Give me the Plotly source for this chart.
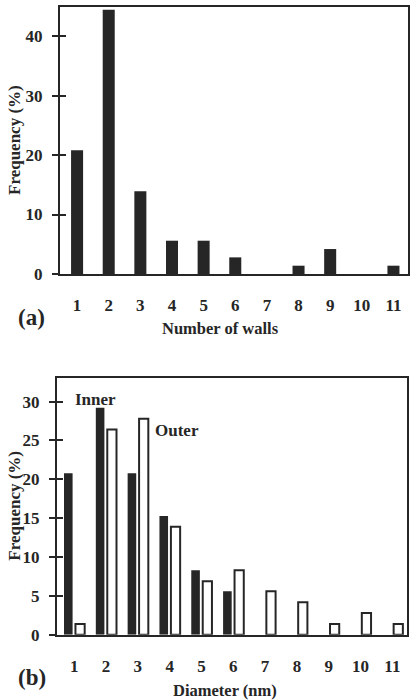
import plotly.graph_objects as go

# ---- data ----
walls = list(range(1, 12))
freq_walls = [20.8, 44.4, 13.9, 5.6, 5.6, 2.8, 0, 1.4, 4.2, 0, 1.4]

diam = list(range(1, 12))
freq_inner = [20.8, 29.2, 20.8, 15.3, 8.3, 5.6, 0, 0, 0, 0, 0]
freq_outer = [1.4, 26.4, 27.8, 13.9, 6.9, 8.3, 5.6, 4.2, 1.4, 2.8, 1.4]

x_ticks = list(range(1, 12))
ya_ticks = [0, 10, 20, 30, 40]
yb_ticks = [0, 5, 10, 15, 20, 25, 30]

W, H = 417, 700
INK = "#262626"
FONT = "Times New Roman, Liberation Serif, DejaVu Serif, serif"

def px(x):
    return x / W

def py(y):
    return 1 - y / H

fig = go.Figure()

fig.add_trace(go.Bar(x=walls, y=freq_walls, width=0.38, marker=dict(color=INK, line=dict(width=0)),
                     xaxis="x", yaxis="y", showlegend=False))
fig.add_trace(go.Bar(x=diam, y=freq_inner, width=0.27, offset=-0.32,
                     marker=dict(color=INK, line=dict(width=0)),
                     xaxis="x2", yaxis="y2", showlegend=False))
fig.add_trace(go.Bar(x=diam, y=freq_outer, width=0.29, offset=0.04,
                     marker=dict(color="white", line=dict(color=INK, width=2)),
                     xaxis="x2", yaxis="y2", showlegend=False))

tickfont = dict(family=FONT, size=17, color=INK, weight="bold")

common_x = dict(range=[0.46, 11.46], tickvals=x_ticks, ticks="", showline=True, linewidth=2,
                linecolor=INK, mirror=True, showgrid=False, zeroline=False, tickfont=tickfont,
                ticklabelstandoff=15)
common_y = dict(ticks="outside", ticklen=6, tickwidth=2, tickcolor=INK, showline=True,
                linewidth=2, linecolor=INK, mirror=True, showgrid=False, zeroline=False,
                tickfont=tickfont, ticklabelstandoff=6)

dom_xa = [px(60), px(408)]
dom_ya = [py(278), py(7)]
dom_xb = [px(57), px(407)]
dom_yb = [py(644), py(383)]

fig.update_layout(
    width=W, height=H, margin=dict(l=0, r=0, t=0, b=0),
    paper_bgcolor="white", plot_bgcolor="white",
    barmode="overlay",
    xaxis=dict(domain=dom_xa, anchor="y", **common_x),
    yaxis=dict(domain=dom_ya, anchor="x", range=[0, 44.9], tickvals=ya_ticks, **common_y),
    xaxis2=dict(domain=dom_xb, anchor="y2", **common_x),
    yaxis2=dict(domain=dom_yb, anchor="x2", range=[0, 33.1], tickvals=yb_ticks, **common_y),
    yaxis3=dict(overlaying="y", anchor="x", range=[0, 44.9], tickvals=ya_ticks, ticks="inside",
                ticklen=6, tickwidth=2, tickcolor=INK, showticklabels=False, showgrid=False,
                zeroline=False, showline=False),
    yaxis4=dict(overlaying="y2", anchor="x2", range=[0, 33.1], tickvals=yb_ticks, ticks="inside",
                ticklen=6, tickwidth=2, tickcolor=INK, showticklabels=False, showgrid=False,
                zeroline=False, showline=False),
)

# invisible traces to activate overlay axes
fig.add_trace(go.Scatter(x=[None], y=[None], xaxis="x", yaxis="y3", showlegend=False))
fig.add_trace(go.Scatter(x=[None], y=[None], xaxis="x2", yaxis="y4", showlegend=False))

lab = dict(family=FONT, size=17, color=INK, weight="bold")
ttl = dict(family=FONT, size=16.5, color=INK, weight="bold")
big = dict(family=FONT, size=23, color=INK, weight="bold")
ann = [
    dict(text="Frequency (%)", x=px(15), y=py(142), textangle=-90, font=lab),
    dict(text="Number of walls", x=px(220), y=py(333), font=ttl),
    dict(text="(a)", x=px(32), y=py(322), font=big),
    dict(text="Frequency (%)", x=px(15), y=py(513), textangle=-90, font=lab),
    dict(text="Diameter (nm)", x=px(225), y=py(689), yanchor="top", font=ttl),
    dict(text="(b)", x=px(32), y=py(687), font=big),
]
for a in ann:
    a.setdefault("yanchor", "middle")
    fig.add_annotation(xref="paper", yref="paper", xanchor="center", showarrow=False, **a)

fig.add_annotation(xref="x2", yref="y2", x=1.66, y=30.3, text="Inner", showarrow=False, font=lab)
fig.add_annotation(xref="x2", yref="y2", x=4.24, y=26.3, text="Outer", showarrow=False, font=lab)

fig.write_html("out.html")
